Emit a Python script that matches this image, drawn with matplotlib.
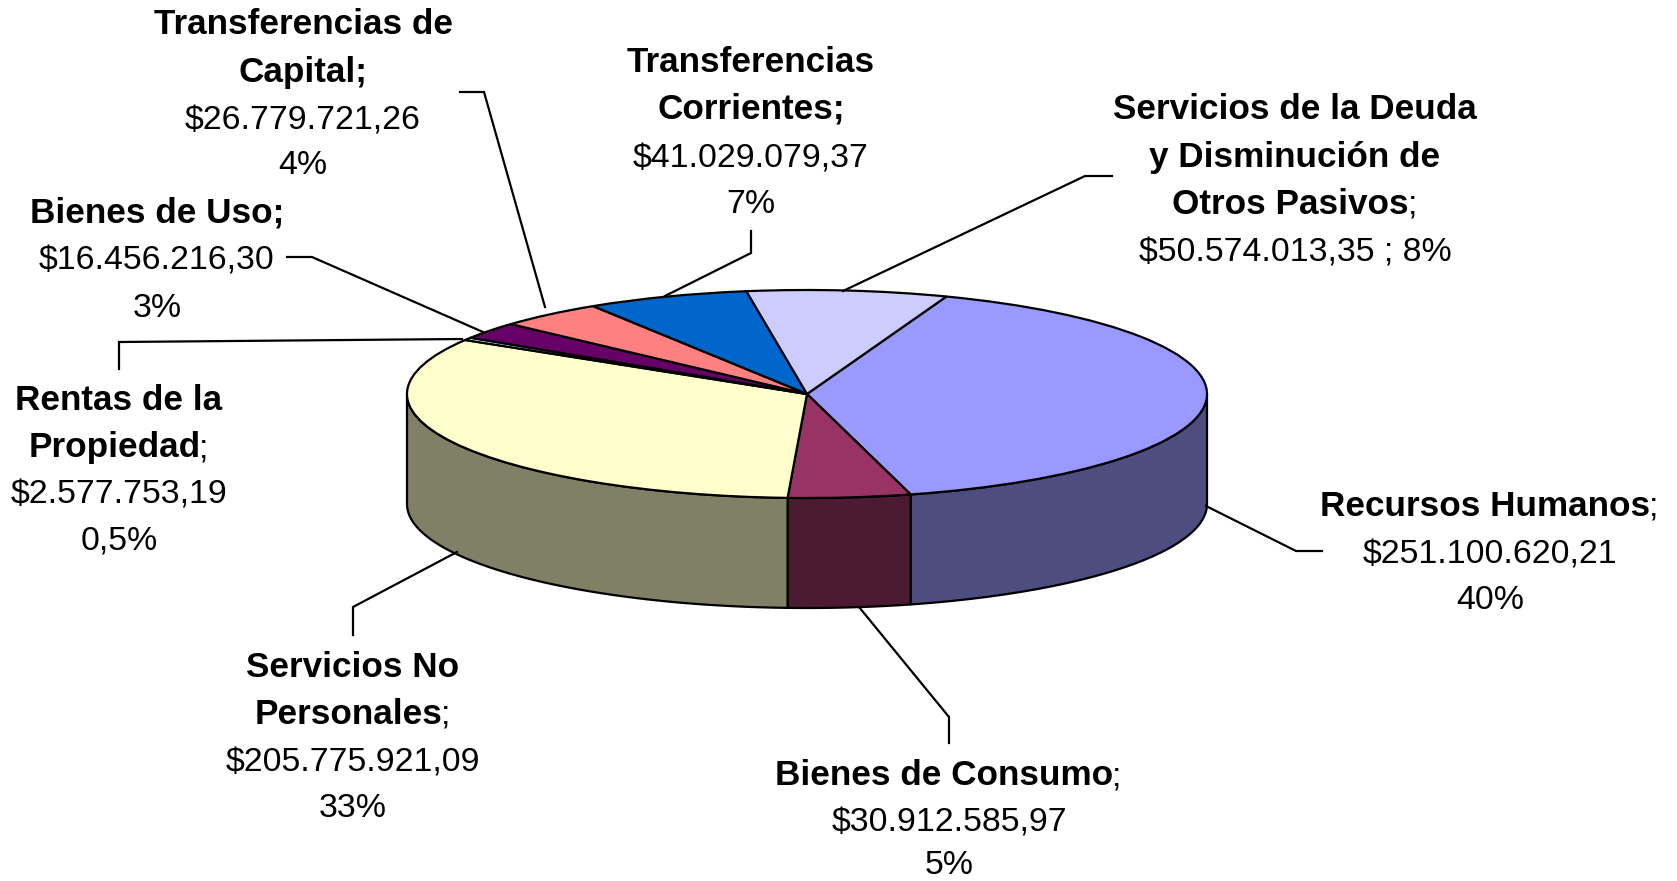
import numpy as np
import matplotlib
matplotlib.use('Agg')
import matplotlib.pyplot as plt
from matplotlib.patches import Polygon
from matplotlib.transforms import Affine2D

# Datos del grafico
categorias = ['Recursos Humanos', 'Bienes de Consumo', 'Servicios No Personales',
              'Rentas de la Propiedad', 'Bienes de Uso', 'Transferencias de Capital',
              'Transferencias Corrientes', 'Servicios de la Deuda']
valores = [251100620.21, 30912585.97, 205775921.09, 2577753.19,
           16456216.30, 26779721.26, 41029079.37, 50574013.35]
colores_top = ['#9999FF', '#993366', '#FFFFCC', '#CCFFFF',
               '#660066', '#FF8080', '#0066CC', '#CCCCFF']
colores_lado = ['#4D4D80', '#4D1A33', '#808066', '#668080',
                '#330033', '#804040', '#003366', '#666680']

W, H = 1677, 881
cx, cy = 807, 394
rx, ry = 400, 104
depth = 110
start = 69.6  # angulo del primer sector

fig = plt.figure(figsize=(W / 100, H / 100), dpi=100)
ax = fig.add_axes([0, 0, 1, 1])
plt.rcParams['font.family'] = ['Liberation Sans', 'DejaVu Sans']

# paredes del cilindro, solo la parte de adelante
fracs = np.array(valores) / sum(valores)
bordes = start - 360 * np.concatenate([[0], np.cumsum(fracs)])
d = depth / ry
for i in range(len(valores)):
    a1, a0 = bordes[i], bordes[i + 1]
    t = np.linspace(a0, a1, 200) % 360
    t = t[(t >= 180) & (t <= 360)]
    if len(t) < 2:
        continue
    t = np.radians(t)
    xs = np.cos(t)
    ys = np.sin(t)
    pts = np.vstack([np.column_stack([xs, ys]),
                     np.column_stack([xs[::-1], ys[::-1] - d])])
    ax.add_patch(Polygon(pts, closed=True, facecolor=colores_lado[i],
                         edgecolor='black', linewidth=1.6, joinstyle='round'))

wedges, _ = ax.pie(valores, colors=colores_top, startangle=start, counterclock=False,
                   radius=1, center=(0, 0),
                   wedgeprops={'edgecolor': 'black', 'linewidth': 1.6})
ax.set_aspect('auto')
ax.set_xlim((0 - cx) / rx, (W - cx) / rx)
ax.set_ylim((cy - H) / ry, cy / ry)
ax.axis('off')

# coordenadas en pixeles de la imagen para textos y lineas guia
px = Affine2D().scale(1, -1).translate(0, H)

guias = [
    [(460, 92), (484, 92), (545, 307)],
    [(287, 257), (312, 257), (483, 332)],
    [(119, 369), (119, 342), (462, 339)],
    [(353, 635), (353, 607), (457, 552)],
    [(949, 743), (949, 717), (859, 607)],
    [(1322, 551), (1296, 551), (1206, 506)],
    [(1112, 176), (1085, 176), (843, 291)],
    [(751, 231), (751, 253), (665, 296)],
]
for g in guias:
    xs, ys = zip(*g)
    ax.plot(xs, ys, color='black', lw=1.6, transform=px, solid_joinstyle='miter', clip_on=False)

B = 'bold'
N = 'normal'
etiquetas = [
    (303, [22, 70, 117, 162], [[('Transferencias de', B)], [('Capital;', B)],
                               [('$26.779.721,26', N)], [('4%', N)]]),
    (157, [211, 258, 305], [[('Bienes de Uso;', B)], [('$16.456.216,30', N)], [('3%', N)]]),
    (119, [398, 445, 492, 538], [[('Rentas de la', B)], [('Propiedad', B), (';', N)],
                                 [('$2.577.753,19', N)], [('0,5%', N)]]),
    (353, [665, 712, 759, 805], [[('Servicios No', B)], [('Personales', B), (';', N)],
                                 [('$205.775.921,09', N)], [('33%', N)]]),
    (949, [773, 820, 862], [[('Bienes de Consumo', B), (';', N)],
                            [('$30.912.585,97', N)], [('5%', N)]]),
    (1490, [504, 551, 597], [[('Recursos Humanos', B), (';', N)],
                             [('$251.100.620,21', N)], [('40%', N)]]),
    (1295, [107, 155, 202, 249], [[('Servicios de la Deuda', B)], [('y Disminución de', B)],
                                  [('Otros Pasivos', B), (';', N)],
                                  [('$50.574.013,35 ; 8%', N)]]),
    (751, [60, 107, 155, 201], [[('Transferencias', B)], [('Corrientes;', B)],
                                [('$41.029.079,37', N)], [('7%', N)]]),
]

renderer = fig.canvas.get_renderer()
tam = {B: 25.3, N: 24.4}


def linea(x, y, partes):
    # centra una linea con partes en negrita y normal
    textos = [ax.text(0, y + 12, t, weight=w, fontsize=tam[w], transform=px, va='baseline',
                      ha='left', color='black', clip_on=False) for t, w in partes]
    anchos = [tx.get_window_extent(renderer).width for tx in textos]
    pos = x - sum(anchos) / 2
    for tx, a in zip(textos, anchos):
        tx.set_x(pos)
        pos += a - 1


for x, ys, lineas in etiquetas:
    for y, partes in zip(ys, lineas):
        linea(x, y, partes)

fig.savefig('out.png', dpi=100, facecolor='white')
